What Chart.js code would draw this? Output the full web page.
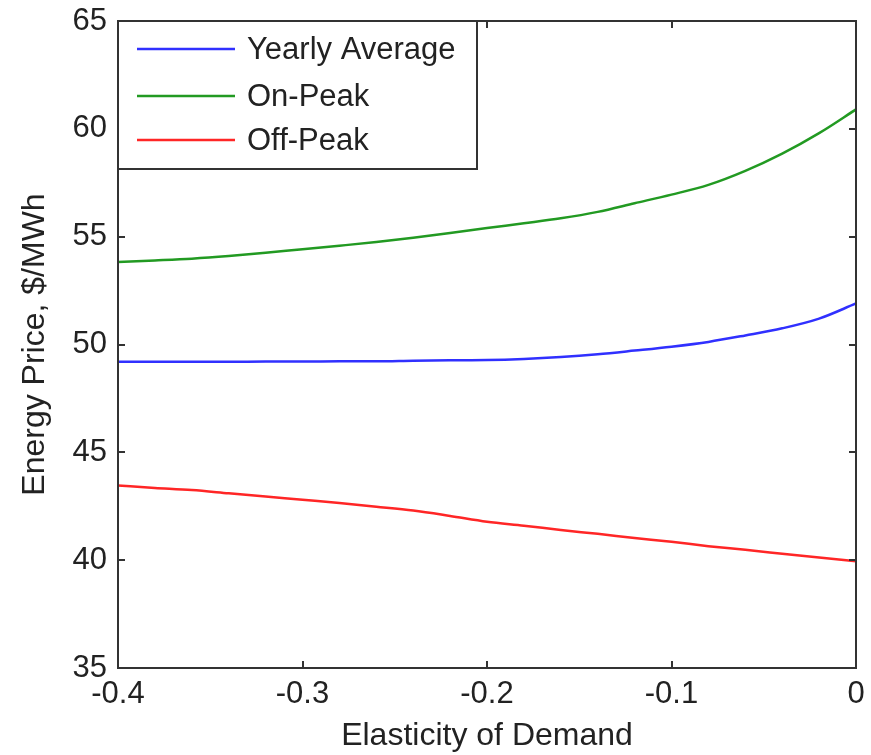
<!DOCTYPE html>
<html>
<head>
<meta charset="utf-8">
<script src="https://cdn.jsdelivr.net/npm/chart.js@4/dist/chart.umd.min.js"></script>
<style>
  html, body { margin: 0; padding: 0; background: #ffffff; }
  #wrap { width: 871px; height: 755px; }
</style>
</head>
<body>
<div id="wrap"><canvas id="c" width="871" height="755"></canvas></div>
<script>
// ---- data ----
const elasticity = [-0.40, -0.38, -0.36, -0.34, -0.32, -0.30, -0.28, -0.26, -0.24, -0.22, -0.20,
                    -0.18, -0.16, -0.14, -0.12, -0.10, -0.08, -0.06, -0.04, -0.02, 0.00];
const yearlyAverage = [49.20, 49.20, 49.20, 49.20, 49.21, 49.21, 49.22, 49.22, 49.25, 49.27, 49.28,
                       49.33, 49.42, 49.55, 49.72, 49.90, 50.12, 50.42, 50.75, 51.20, 51.90];
const onPeak = [53.83, 53.90, 53.98, 54.10, 54.25, 54.42, 54.58, 54.75, 54.95, 55.17, 55.40,
                55.62, 55.85, 56.15, 56.55, 56.95, 57.40, 58.05, 58.85, 59.80, 60.90];
const offPeak = [43.46, 43.35, 43.25, 43.10, 42.95, 42.80, 42.65, 42.48, 42.30, 42.05, 41.78,
                 41.60, 41.40, 41.22, 41.03, 40.85, 40.65, 40.48, 40.30, 40.12, 39.95];
const seriesNames = ['Yearly Average', 'On-Peak', 'Off-Peak'];
const xTickValues = [-0.4, -0.3, -0.2, -0.1, 0];
const xTickLabels = ['-0.4', '-0.3', '-0.2', '-0.1', '0'];
const yTickValues = [35, 40, 45, 50, 55, 60, 65];
const yTickLabels = ['35', '40', '45', '50', '55', '60', '65'];
const xTitle = 'Elasticity of Demand';
const yTitle = 'Energy Price, $/MWh';

// ---- styles ----
const FONT = 'Liberation Sans';
const FSIZE = 31;
const TSIZE = 32;
const TEXT = '#222222';
const AXIS = '#333333';
const colors = ['#3030ff', '#229a22', '#ff2626'];

const pts = (ys) => elasticity.map((x, i) => ({ x: x, y: ys[i] }));

const boxPlugin = {
  id: 'matlabBox',
  afterDatasetsDraw(chart) {
    const { ctx, chartArea: a, scales } = chart;
    const xs = scales.x, ys = scales.y;
    ctx.save();
    ctx.strokeStyle = AXIS;
    ctx.lineWidth = 2;
    ctx.strokeRect(a.left, a.top, a.right - a.left, a.bottom - a.top);
    // inward ticks on all four sides
    const tl = 7;
    ctx.beginPath();
    xTickValues.forEach(v => {
      const px = Math.round(xs.getPixelForValue(v));
      ctx.moveTo(px, a.bottom); ctx.lineTo(px, a.bottom - tl);
      ctx.moveTo(px, a.top); ctx.lineTo(px, a.top + tl);
    });
    yTickValues.forEach(v => {
      const py = Math.round(ys.getPixelForValue(v));
      ctx.moveTo(a.left, py); ctx.lineTo(a.left + tl, py);
      ctx.moveTo(a.right, py); ctx.lineTo(a.right - tl, py);
    });
    ctx.stroke();

    // legend box, top-left inside the axes
    const L = a.left, T = a.top, W = 359, H = 148;
    ctx.fillStyle = '#ffffff';
    ctx.fillRect(L, T, W, H);
    ctx.strokeStyle = AXIS;
    ctx.lineWidth = 2;
    ctx.strokeRect(L, T, W, H);
    const rows = [28, 75, 119];
    ctx.font = FSIZE + 'px "' + FONT + '"';
    ctx.textBaseline = 'middle';
    ctx.textAlign = 'left';
    chart.data.datasets.forEach((ds, i) => {
      const y = T + rows[i];
      ctx.strokeStyle = ds.borderColor;
      ctx.lineWidth = 2.5;
      ctx.beginPath();
      ctx.moveTo(L + 19, y); ctx.lineTo(L + 117, y);
      ctx.stroke();
      ctx.fillStyle = TEXT;
      ctx.fillText(ds.label, L + 129, y + 1);
    });
    ctx.restore();
  }
};

new Chart(document.getElementById('c'), {
  type: 'line',
  data: {
    datasets: [
      { label: seriesNames[0], data: pts(yearlyAverage), borderColor: colors[0] },
      { label: seriesNames[1], data: pts(onPeak), borderColor: colors[1] },
      { label: seriesNames[2], data: pts(offPeak), borderColor: colors[2] }
    ].map(d => Object.assign(d, {
      borderWidth: 2.5, pointRadius: 0, fill: false, cubicInterpolationMode: 'monotone'
    }))
  },
  options: {
    responsive: false,
    animation: false,
    layout: { padding: { top: 21, right: 15, left: 0, bottom: 0 } },
    plugins: { legend: { display: false }, tooltip: { enabled: false } },
    scales: {
      x: {
        type: 'linear',
        min: -0.4, max: 0,
        afterBuildTicks: (s) => { s.ticks = xTickValues.map(v => ({ value: v })); },
        afterFit: (s) => { s.height = 87; s.paddingLeft = 0; s.paddingRight = 0; },
        grid: { display: false, drawTicks: false },
        border: { display: false },
        ticks: {
          color: TEXT, font: { family: FONT, size: FSIZE }, padding: 8, maxRotation: 0,
          callback: (v) => { const i = xTickValues.findIndex(t => Math.abs(t - v) < 1e-9); return i >= 0 ? xTickLabels[i] : ''; }
        },
        title: { display: true, text: xTitle, color: TEXT, font: { family: FONT, size: TSIZE }, padding: { top: 0, bottom: 0 } }
      },
      y: {
        type: 'linear',
        min: 35, max: 65,
        afterBuildTicks: (s) => { s.ticks = yTickValues.map(v => ({ value: v })); },
        afterFit: (s) => { s.width = 118; s.paddingTop = 0; s.paddingBottom = 0; },
        grid: { display: false, drawTicks: false },
        border: { display: false },
        ticks: {
          color: TEXT, font: { family: FONT, size: FSIZE }, padding: 11,
          callback: (v) => { const i = yTickValues.indexOf(v); return i >= 0 ? yTickLabels[i] : ''; }
        },
        title: { display: true, text: yTitle, color: TEXT, font: { family: FONT, size: TSIZE }, padding: { top: 16, bottom: 0 } }
      }
    }
  },
  plugins: [boxPlugin]
});
</script>
</body>
</html>
